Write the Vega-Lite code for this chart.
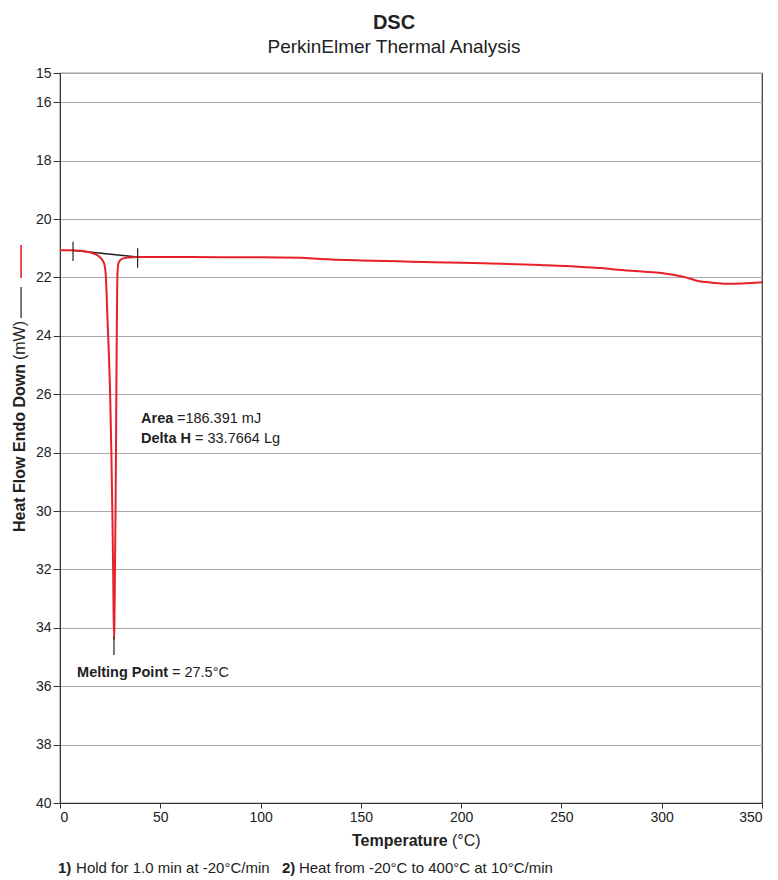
{
  "$schema": "https://vega.github.io/schema/vega-lite/v6.json",
  "autosize": {"type": "none"},
  "padding": {"left": 60, "top": 73, "right": 16, "bottom": 77},
  "width": 702,
  "height": 730,
  "background": "white",
  "config": {
    "font": "Liberation Sans",
    "view": {"stroke": "#333", "strokeWidth": 1.2},
    "axis": {"domainColor": "#333", "tickColor": "#333", "labelColor": "#222", "labelFont": "Liberation Sans"}
  },
  "title": {
    "text": "DSC",
    "subtitle": "PerkinElmer Thermal Analysis",
    "fontSize": 20,
    "fontWeight": "bold",
    "subtitleFontSize": 19,
    "subtitlePadding": 5,
    "anchor": "middle",
    "frame": "group",
    "dx": -17,
    "offset": 9,
    "color": "#222",
    "subtitleColor": "#222",
    "font": "Liberation Sans",
    "subtitleFont": "Liberation Sans"
  },
  "datasets": {
    "curve": [
      {"T": 0, "v": 21.07}, {"T": 5, "v": 21.07}, {"T": 10, "v": 21.09}, {"T": 14, "v": 21.13},
      {"T": 17, "v": 21.19}, {"T": 19, "v": 21.26}, {"T": 20.5, "v": 21.35}, {"T": 21.5, "v": 21.45},
      {"T": 22.2, "v": 21.58}, {"T": 22.6, "v": 21.75}, {"T": 22.9, "v": 22.0}, {"T": 23.2, "v": 22.5},
      {"T": 23.6, "v": 23.3}, {"T": 24.3, "v": 24.5}, {"T": 25.0, "v": 26.0}, {"T": 25.6, "v": 28.0},
      {"T": 26.1, "v": 30.0}, {"T": 26.5, "v": 32.0}, {"T": 26.9, "v": 34.4},
      {"T": 27.1, "v": 34.0}, {"T": 27.4, "v": 32.0}, {"T": 27.7, "v": 30.0}, {"T": 28.0, "v": 27.0},
      {"T": 28.3, "v": 24.0}, {"T": 28.5, "v": 22.5}, {"T": 28.7, "v": 21.8}, {"T": 29.2, "v": 21.5},
      {"T": 30.5, "v": 21.38}, {"T": 33, "v": 21.33}, {"T": 39, "v": 21.3}, {"T": 50, "v": 21.3},
      {"T": 80, "v": 21.31}, {"T": 100, "v": 21.31}, {"T": 120, "v": 21.33}, {"T": 130, "v": 21.37},
      {"T": 150, "v": 21.42}, {"T": 175, "v": 21.46}, {"T": 200, "v": 21.5}, {"T": 220, "v": 21.53},
      {"T": 240, "v": 21.58}, {"T": 260, "v": 21.64}, {"T": 270, "v": 21.68}, {"T": 280, "v": 21.75},
      {"T": 290, "v": 21.8}, {"T": 300, "v": 21.85}, {"T": 307, "v": 21.93}, {"T": 312, "v": 22.0},
      {"T": 318, "v": 22.12}, {"T": 325, "v": 22.18}, {"T": 332, "v": 22.22}, {"T": 340, "v": 22.21},
      {"T": 350, "v": 22.17}
    ],
    "baseline": [
      {"T": 7, "v": 21.08}, {"T": 38.7, "v": 21.3}
    ],
    "rules": [
      {"T": 6.5, "v": 20.78, "v2": 21.44, "role": "black"},
      {"T": 38.7, "v": 21.0, "v2": 21.67, "role": "black"},
      {"T": 26.9, "v": 34.3, "v2": 34.93, "role": "black"},
      {"T": -19.4, "v": 22.33, "v2": 23.39, "role": "black"},
      {"T": -19.4, "v": 20.89, "v2": 22.02, "role": "red"}
    ],
    "labels": [
      {"T": 40.4, "v": 26.98, "text": "Area", "role": "annotBold"},
      {"T": 58.3, "v": 26.98, "text": "=186.391 mJ", "role": "annotNorm"},
      {"T": 40.4, "v": 27.67, "text": "Delta H", "role": "annotBold"},
      {"T": 67.3, "v": 27.67, "text": "= 33.7664 Lg", "role": "annotNorm"},
      {"T": 8.5, "v": 35.68, "text": "Melting Point", "role": "annotBold"},
      {"T": 55.8, "v": 35.68, "text": "= 27.5°C", "role": "annotNorm"},
      {"T": 145.6, "v": 41.47, "text": "Temperature", "role": "xBold"},
      {"T": 195.4, "v": 41.47, "text": "(°C)", "role": "xNorm"},
      {"T": -1.0, "v": 42.4, "text": "1)", "role": "footBold"},
      {"T": 8.0, "v": 42.4, "text": "Hold for 1.0 min at -20°C/min", "role": "footNorm"},
      {"T": 110.7, "v": 42.4, "text": "2)", "role": "footBold"},
      {"T": 119.1, "v": 42.4, "text": "Heat from -20°C to 400°C at 10°C/min", "role": "footNorm"},
      {"T": -19.9, "v": 30.72, "text": "Heat Flow Endo Down", "role": "yBold"},
      {"T": -19.9, "v": 24.83, "text": "(mW)", "role": "yNorm"}
    ]
  },
  "encoding": {
    "x": {
      "field": "T", "type": "quantitative",
      "scale": {"domain": [0, 350], "nice": false, "zero": false},
      "axis": {"values": [0, 50, 100, 150, 200, 250, 300, 350], "title": null, "grid": false, "labelFontSize": 14, "tickSize": 5, "labelPadding": 2}
    },
    "y": {
      "field": "v", "type": "quantitative",
      "scale": {"domain": [15, 40], "nice": false, "zero": false, "reverse": true},
      "axis": {"values": [15, 16, 18, 20, 22, 24, 26, 28, 30, 32, 34, 36, 38, 40], "title": null, "grid": true, "gridColor": "#aaaaaa", "gridWidth": 1, "labelFontSize": 14, "tickSize": 7, "labelPadding": 2}
    }
  },
  "layer": [
    {"data": {"name": "baseline"}, "mark": {"type": "line", "color": "#222", "strokeWidth": 1.5}},
    {"data": {"name": "curve"}, "mark": {"type": "line", "color": "#e8202a", "strokeWidth": 2, "interpolate": "monotone"}},
    {"data": {"name": "rules"}, "transform": [{"filter": "datum.role === 'black'"}], "mark": {"type": "rule", "color": "#222", "strokeWidth": 1.2, "clip": false}, "encoding": {"y2": {"field": "v2"}}},
    {"data": {"name": "rules"}, "transform": [{"filter": "datum.role === 'red'"}], "mark": {"type": "rule", "color": "#e8202a", "strokeWidth": 1.6, "clip": false}, "encoding": {"y2": {"field": "v2"}}},
    {"data": {"name": "labels"}, "transform": [{"filter": "datum.role === 'annotBold'"}], "mark": {"type": "text", "align": "left", "baseline": "alphabetic", "fontSize": 14.5, "fontWeight": "bold", "color": "#222"}, "encoding": {"text": {"field": "text"}}},
    {"data": {"name": "labels"}, "transform": [{"filter": "datum.role === 'annotNorm'"}], "mark": {"type": "text", "align": "left", "baseline": "alphabetic", "fontSize": 14.5, "color": "#222"}, "encoding": {"text": {"field": "text"}}},
    {"data": {"name": "labels"}, "transform": [{"filter": "datum.role === 'xBold'"}], "mark": {"type": "text", "align": "left", "baseline": "alphabetic", "fontSize": 16, "fontWeight": "bold", "color": "#222"}, "encoding": {"text": {"field": "text"}}},
    {"data": {"name": "labels"}, "transform": [{"filter": "datum.role === 'xNorm'"}], "mark": {"type": "text", "align": "left", "baseline": "alphabetic", "fontSize": 16, "color": "#222"}, "encoding": {"text": {"field": "text"}}},
    {"data": {"name": "labels"}, "transform": [{"filter": "datum.role === 'footBold'"}], "mark": {"type": "text", "align": "left", "baseline": "alphabetic", "fontSize": 15, "fontWeight": "bold", "color": "#222"}, "encoding": {"text": {"field": "text"}}},
    {"data": {"name": "labels"}, "transform": [{"filter": "datum.role === 'footNorm'"}], "mark": {"type": "text", "align": "left", "baseline": "alphabetic", "fontSize": 15, "color": "#222"}, "encoding": {"text": {"field": "text"}}},
    {"data": {"name": "labels"}, "transform": [{"filter": "datum.role === 'yBold'"}], "mark": {"type": "text", "align": "left", "baseline": "middle", "angle": 270, "fontSize": 16, "fontWeight": "bold", "color": "#222"}, "encoding": {"text": {"field": "text"}}},
    {"data": {"name": "labels"}, "transform": [{"filter": "datum.role === 'yNorm'"}], "mark": {"type": "text", "align": "left", "baseline": "middle", "angle": 270, "fontSize": 16, "color": "#222"}, "encoding": {"text": {"field": "text"}}}
  ]
}
